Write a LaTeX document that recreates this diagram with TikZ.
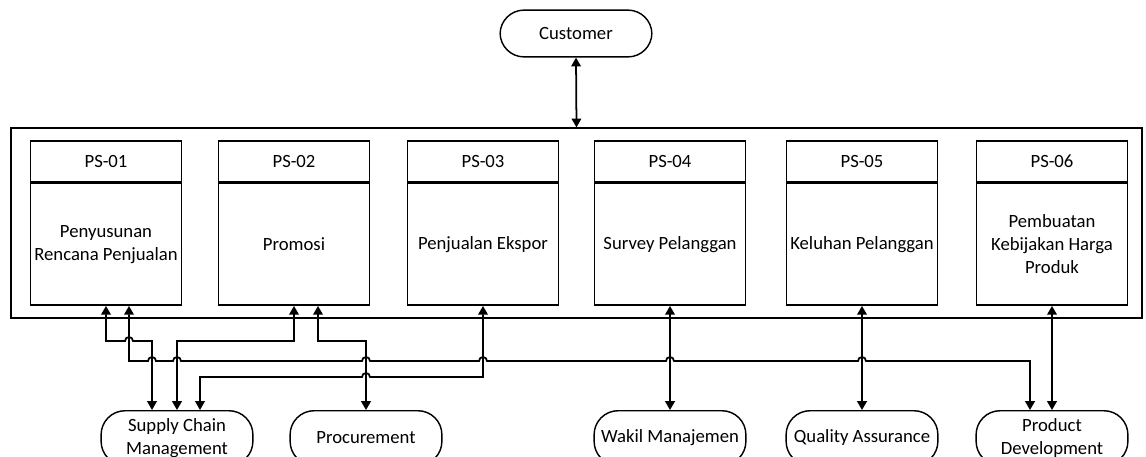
\documentclass[tikz,border=0pt]{standalone}
\usepackage{fontspec}
\setmainfont{Carlito}
\usetikzlibrary{arrows.meta,positioning}

\tikzset{
  pshead/.style={draw, line width=0.9pt, minimum width=3.32cm, minimum height=0.9cm, inner sep=0pt},
  psbody/.style={draw, line width=0.9pt, minimum width=3.32cm, minimum height=2.68cm, align=center, inner sep=0pt},
  party/.style={draw, line width=0.9pt, rounded corners=15pt, minimum width=3.34cm, minimum height=1.2cm, align=center, inner sep=0pt},
  link/.style={{Triangle[length=5.5pt,width=6pt]}-{Triangle[length=5.5pt,width=6pt]}, line width=1.1pt},
}
% line hop over a crossing vertical line (path runs left to right)
\newcommand{\hop}[2]{-- ([xshift=-2.5pt]#1,#2) arc[start angle=180,end angle=0,radius=2.5pt]}

\begin{document}
\begin{tikzpicture}[x=0.022cm,y=-0.022cm,every node/.style={font=\fontsize{11.7}{14.4}\selectfont}]
            \useasboundingbox (0,0) rectangle (1146,457);
            % Frame
            \node[draw, line width=0.8pt, minimum width=24.88cm, minimum height=4.18cm] (frame) at (576.5,223) {};
            \node[party, minimum height=1.03cm] (cust) at (576,33.5) {Customer};
            \draw[link] (cust.south) -- (frame.north);
            % Processes
            \node[pshead] (ps1) at (106,161.5) {PS-01};
            \node[psbody, below=0pt of ps1] (ps1b) {Penyusunan\\Rencana Penjualan};
            \node[pshead] (ps2) at (294,161.5) {PS-02};
            \node[psbody, below=0pt of ps2] (ps2b) {Promosi};
            \node[pshead] (ps3) at (483,161.5) {PS-03};
            \node[psbody, below=0pt of ps3] (ps3b) {Penjualan Ekspor};
            \node[pshead] (ps4) at (670,161.5) {PS-04};
            \node[psbody, below=0pt of ps4] (ps4b) {Survey Pelanggan};
            \node[pshead] (ps5) at (862,161.5) {PS-05};
            \node[psbody, below=0pt of ps5] (ps5b) {Keluhan Pelanggan};
            \node[pshead] (ps6) at (1052,161.5) {PS-06};
            \node[psbody, below=0pt of ps6] (ps6b) {Pembuatan\\Kebijakan Harga\\Produk};
            % Departments
            \node[party] (scm) at (177,438) {Supply Chain\\Management};
            \node[party] (proc) at (366,438) {Procurement};
            \node[party] (wakil) at (670,438) {Wakil Manajemen};
            \node[party] (qa) at (862,438) {Quality Assurance};
            \node[party] (pd) at (1052,438) {Product\\Development};
            % Links
            \draw[link] (ps1b.south) -- (106,341) \hop{129}{341} -| (scm.north -| 152,0);
            \draw[link] (ps1b.south -| 129,0) -- (129,361) \hop{152}{361} \hop{177}{361}
                \hop{366}{361} \hop{483}{361} \hop{670}{361} \hop{862}{361} -| (pd.north -| 1030,0);
            \draw[link] (ps2b.south) |- (177,341) -- (scm.north);
            \draw[link] (ps2b.south -| 318,0) |- (366,341) -- (proc.north);
            \draw[link] (scm.north -| 200,0) -- (200,377) \hop{366}{377} -| (ps3b.south);
            \draw[link] (ps4b.south) -- (wakil.north);
            \draw[link] (ps5b.south) -- (qa.north);
            \draw[link] (ps6b.south) -- (pd.north);
           \end{tikzpicture}
\end{document}
